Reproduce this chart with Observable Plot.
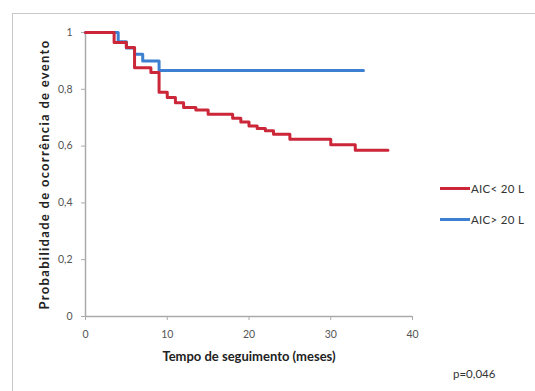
<!DOCTYPE html>
<html>
<head>
<meta charset="utf-8">
<script src="https://cdn.jsdelivr.net/npm/d3@7"></script>
<script src="https://cdn.jsdelivr.net/npm/@observablehq/plot@0.6"></script>
<style>
  html, body { margin: 0; padding: 0; background: #fff; }
  #wrap { position: relative; width: 535px; height: 391px; overflow: hidden; font-family: Lato, "Open Sans", sans-serif; }
  #frame { position: absolute; left: 12px; top: 13px; width: 540px; height: 390px; border: 1.5px solid #c8c8c8; box-sizing: border-box; pointer-events: none; }
  .leg { position: absolute; left: 440px; font-size: 11.5px; color: #333; display: flex; align-items: center; letter-spacing: 0.3px; }
  .leg span.sw { display: inline-block; width: 30px; height: 3px; margin-right: 1px; }
  #pval { position: absolute; left: 453px; top: 367px; font-size: 11.5px; color: #333; }
</style>
</head>
<body>
<div id="wrap"></div>
<script>
// Data (Kaplan-Meier step curves)
const redTime  = [0, 3.5, 5, 6, 8, 9, 10, 11, 12, 13.5, 15, 18, 19, 20, 21, 22, 23, 25, 30, 33, 37];
const redProb  = [1, 0.965, 0.947, 0.876, 0.859, 0.79, 0.771, 0.753, 0.736, 0.727, 0.712, 0.698, 0.685, 0.671, 0.662, 0.654, 0.642, 0.624, 0.605, 0.585, 0.585];
const blueTime = [0, 4, 5, 6, 7, 9, 34];
const blueProb = [1, 0.967, 0.945, 0.923, 0.9, 0.866, 0.866];
const seriesNames = ["AIC< 20 L", "AIC> 20 L"];
const seriesColors = ["#cc2639", "#3d7fd0"];
const xTicks = [0, 10, 20, 30, 40];
const yTicks = [0, 0.2, 0.4, 0.6, 0.8, 1];
const xTitle = "Tempo de seguimento (meses)";
const yTitle = "Probabilidade de ocorrência de evento";
const pText = "p=0,046";

const red = redTime.map((t, i) => ({t, p: redProb[i], s: seriesNames[0]}));
const blue = blueTime.map((t, i) => ({t, p: blueProb[i], s: seriesNames[1]}));

const fmt = d => String(d).replace(".", ",");

const chart = Plot.plot({
  width: 535,
  height: 391,
  marginLeft: 85,
  marginRight: 123,
  marginTop: 32,
  marginBottom: 75,
  style: {fontFamily: "Lato, sans-serif", background: "transparent", color: "#555"},
  x: {domain: [0, 40]},
  y: {domain: [0, 1]},
  color: {domain: seriesNames, range: seriesColors},
  marks: [
    Plot.ruleX([0], {stroke: "#aaa", strokeWidth: 1.5}),
    Plot.ruleY([0], {stroke: "#aaa", strokeWidth: 1.5}),
    Plot.axisY({ticks: yTicks, tickFormat: fmt, tickSize: 4, tickPadding: 9, fontSize: 10.5,
      stroke: "#aaa", label: yTitle, labelAnchor: "center", labelArrow: "none", labelOffset: 46}),
    Plot.axisX({ticks: xTicks, tickSize: 4, tickPadding: 10, fontSize: 10.5, stroke: "#aaa",
      label: xTitle, labelAnchor: "center", labelArrow: "none", labelOffset: 44}),
    Plot.line(blue, {x: "t", y: "p", stroke: "s", strokeWidth: 3, curve: "step-after"}),
    Plot.line(red, {x: "t", y: "p", stroke: "s", strokeWidth: 3, curve: "step-after"})
  ]
});

// Bold axis titles
chart.querySelectorAll('[aria-label="x-axis label"] text').forEach(t => {
  t.setAttribute("font-weight", "bold");
  t.setAttribute("font-size", "13");
  t.setAttribute("fill", "#222");
});
chart.querySelectorAll('[aria-label="y-axis label"] text').forEach(t => {
  t.setAttribute("font-weight", "bold");
  t.setAttribute("font-size", "13");
  t.setAttribute("letter-spacing", "1.3");
  t.setAttribute("fill", "#222");
});

const wrap = document.getElementById("wrap");
wrap.appendChild(chart);
chart.style.position = "absolute";
chart.style.left = "0px";
chart.style.top = "0px";

const frame = document.createElement("div");
frame.id = "frame";
wrap.appendChild(frame);

const legTops = [182, 213];
seriesNames.forEach((name, i) => {
  const d = document.createElement("div");
  d.className = "leg";
  d.style.top = legTops[i] + "px";
  const sw = document.createElement("span");
  sw.className = "sw";
  sw.style.background = seriesColors[i];
  d.appendChild(sw);
  d.appendChild(document.createTextNode(name));
  wrap.appendChild(d);
});

const p = document.createElement("div");
p.id = "pval";
p.textContent = pText;
wrap.appendChild(p);
</script>
</body>
</html>
